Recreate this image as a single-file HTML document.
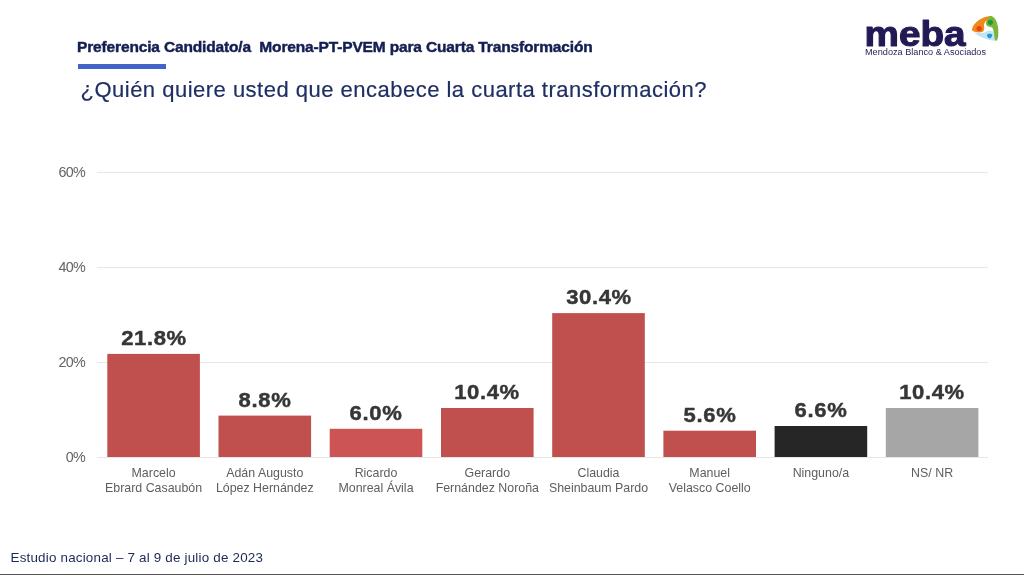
<!DOCTYPE html>
<html lang="es">
<head>
<meta charset="utf-8">
<title>Preferencia Candidato/a Morena-PT-PVEM</title>
<style>
html,body{margin:0;padding:0;background:#fff;}
body{width:1024px;height:575px;position:relative;overflow:hidden;font-family:"Liberation Sans",sans-serif;}
.abs{position:absolute;white-space:nowrap;}
#t1{left:77px;top:37.5px;font-size:15.5px;font-weight:bold;color:#131f52;line-height:18px;letter-spacing:-0.15px;-webkit-text-stroke:0.45px #131f52;}
#ul{left:78px;top:64px;width:88px;height:5px;background:#4264c8;}
#t2{left:80.5px;top:75.5px;font-size:22px;color:#1f2f63;line-height:28px;letter-spacing:0.49px;-webkit-text-stroke:0.2px #1f2f63;}
.grid{position:absolute;left:97px;width:891px;height:1px;background:#e6e6e6;}
.yl{position:absolute;width:60px;left:25px;text-align:right;font-size:14.3px;color:#646464;line-height:16px;letter-spacing:-0.7px;}
.bar{position:absolute;width:93px;background:#c0504d;}
.val{position:absolute;width:140px;text-align:center;font-size:20.8px;font-weight:bold;color:#363636;line-height:24px;letter-spacing:0.6px;transform:scaleX(1.06);transform-origin:50% 50%;-webkit-text-stroke:0.45px #363636;}
.cat{position:absolute;width:140px;text-align:center;font-size:12.4px;color:#5e5e5e;line-height:14.7px;letter-spacing:0;}
#foot{left:10.5px;top:550px;font-size:13.4px;color:#1b2957;line-height:16px;letter-spacing:0.2px;}
#bl{left:0;top:574px;width:1024px;height:1px;background:#555;}
</style>
</head>
<body>
<div class="abs" id="t1">Preferencia Candidato/a&nbsp; Morena-PT-PVEM para Cuarta Transformación</div>
<div class="abs" id="ul"></div>
<div class="abs" id="t2">¿Quién quiere usted que encabece la cuarta transformación?</div>

<div class="grid" style="top:172px"></div>
<div class="grid" style="top:267px"></div>
<div class="grid" style="top:362px"></div>
<div class="grid" style="top:457px"></div>
<div class="yl" style="top:164px">60%</div>
<div class="yl" style="top:259px">40%</div>
<div class="yl" style="top:354px">20%</div>
<div class="yl" style="top:449px">0%</div>

<svg class="abs" style="left:0;top:0" width="1024" height="575" viewBox="0 0 1024 575">
<rect x="107.3" y="353.9" width="92.6" height="103.1" fill="#c0504d"/>
<rect x="218.5" y="415.6" width="92.6" height="41.4" fill="#c0504d"/>
<rect x="329.7" y="428.8" width="92.6" height="28.2" fill="#cd5454"/>
<rect x="441.0" y="408.0" width="92.6" height="49.0" fill="#c0504d"/>
<rect x="552.2" y="313.1" width="92.6" height="143.9" fill="#c0504d"/>
<rect x="663.4" y="430.7" width="92.6" height="26.3" fill="#c0504d"/>
<rect x="774.6" y="426.0" width="92.6" height="31.0" fill="#262626"/>
<rect x="885.8" y="408.0" width="92.6" height="49.0" fill="#a6a6a6"/>
</svg>

<div class="val" style="left:83.6px;top:326.1px">21.8%</div>
<div class="val" style="left:194.8px;top:387.8px">8.8%</div>
<div class="val" style="left:306.0px;top:401.0px">6.0%</div>
<div class="val" style="left:417.3px;top:380.2px">10.4%</div>
<div class="val" style="left:528.5px;top:285.3px">30.4%</div>
<div class="val" style="left:639.7px;top:402.9px">5.6%</div>
<div class="val" style="left:750.9px;top:398.2px">6.6%</div>
<div class="val" style="left:862.1px;top:380.2px">10.4%</div>

<div class="cat" style="left:83.6px;top:466px">Marcelo<br>Ebrard Casaubón</div>
<div class="cat" style="left:194.8px;top:466px">Adán Augusto<br>López Hernández</div>
<div class="cat" style="left:306.0px;top:466px">Ricardo<br>Monreal Ávila</div>
<div class="cat" style="left:417.3px;top:466px">Gerardo<br>Fernández Noroña</div>
<div class="cat" style="left:528.5px;top:466px">Claudia<br>Sheinbaum Pardo</div>
<div class="cat" style="left:639.7px;top:466px">Manuel<br>Velasco Coello</div>
<div class="cat" style="left:750.9px;top:466px">Ninguno/a</div>
<div class="cat" style="left:862.1px;top:466px">NS/ NR</div>

<svg class="abs" style="left:850px;top:0" width="174" height="70" viewBox="850 0 174 70">
<text x="864.5" y="46" font-family="'Liberation Sans',sans-serif" font-weight="bold" font-size="35" fill="#231a55" stroke="#231a55" stroke-width="1.1" stroke-linejoin="round" textLength="101" lengthAdjust="spacingAndGlyphs">meba</text>
<text x="865" y="54.7" font-family="'Liberation Sans',sans-serif" font-size="8.3" fill="#2a2358" textLength="121" lengthAdjust="spacingAndGlyphs">Mendoza Blanco &amp; Asociados</text>
<g transform="translate(960 8) scale(0.069565)">
<path d="M522 472 C 430 472, 280 425, 198 352 C 260 365, 340 360, 370 345 C 400 322, 460 322, 492 350 C 512 380, 528 430, 522 472 Z" fill="#c3e4f6"/>
<path d="M174 302 C 185 220, 300 125, 440 114 C 472 114, 472 150, 440 156 C 390 166, 340 210, 345 260 C 352 300, 347 335, 320 346 C 280 360, 210 352, 184 332 C 171 322, 171 312, 174 302 Z" fill="#ee8a1a"/>
<path d="M428 118 C 480 103, 540 180, 549 300 C 553 380, 551 440, 531 463 C 516 477, 500 466, 497 440 C 495 400, 490 340, 470 290 C 450 265, 400 277, 380 246 C 364 215, 384 170, 428 118 Z" fill="#7db53b"/>
<circle cx="275" cy="296" r="38" fill="#e8421c"/>
<circle cx="436" cy="206" r="37" fill="#239a3a"/>
<path d="M388 385 C 395 365, 455 362, 464 385 C 468 405, 445 437, 425 437 C 405 437, 382 405, 388 385 Z" fill="#219bd8"/>
</g>
</svg>
<div class="abs" id="foot">Estudio nacional – 7 al 9 de julio de 2023</div>
<div class="abs" id="bl"></div>
</body>
</html>
